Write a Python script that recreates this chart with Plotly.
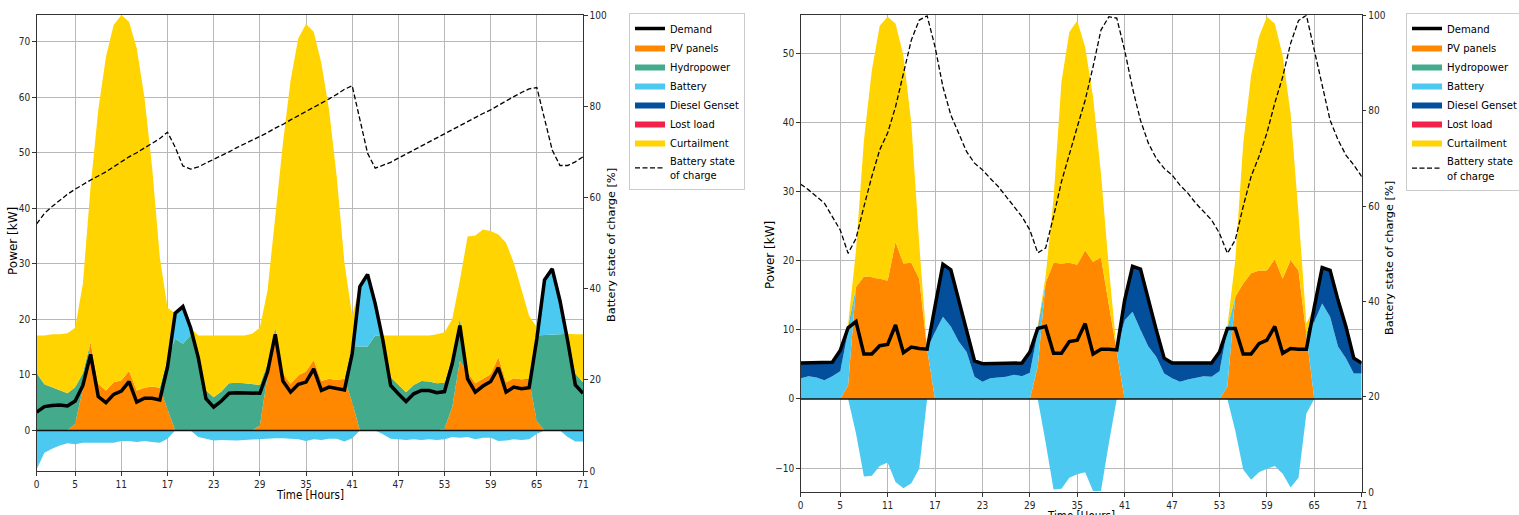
import plotly.graph_objects as go

hours = list(range(72))
x_ticks = [0, 5, 11, 17, 23, 29, 35, 41, 47, 53, 59, 65, 71]

# ---------------- Left chart (hydro system) ----------------
demand_L = [3.3, 4.3, 4.5, 4.6, 4.4, 5.3, 8.1, 13.7, 6.1, 5.0,
            6.5, 7.1, 8.8, 5.1, 5.8, 5.8, 5.5, 11.4, 21.1, 22.3,
            18.5, 13.1, 5.7, 4.2, 5.3, 6.7, 6.8, 6.8, 6.8, 6.7,
            10.5, 17.3, 8.9, 6.9, 8.3, 8.7, 11.1, 7.2, 7.8, 7.6,
            7.3, 13.8, 25.9, 28.1, 22.8, 16.2, 8.1, 6.6, 5.2, 6.6,
            7.2, 7.2, 6.8, 7.0, 12.0, 18.9, 9.3, 6.9, 8.0, 8.8,
            11.3, 6.9, 7.8, 7.5, 7.7, 16.5, 27.1, 29.1, 23.4, 16.2,
            8.2, 6.7]
pv_L = [0, 0, 0, 0, 0, 1.2, 7.5, 15.9, 8.4, 7.2,
        8.7, 9.0, 10.7, 7.2, 7.7, 7.9, 7.7, 3.8, 0, 0,
        0, 0, 0, 0, 0, 0, 0, 0, 0, 0.9,
        9.7, 18.7, 10.3, 8.4, 9.9, 10.6, 12.7, 8.9, 9.3, 9.1,
        9.3, 5.1, 0, 0, 0, 0, 0, 0, 0, 0,
        0, 0, 0, 0.3, 4.2, 12.5, 10.5, 8.5, 9.3, 10.1,
        13.2, 8.7, 9.4, 9.2, 9.0, 1.6, 0, 0, 0, 0,
        0, 0]
hydro_L = [10.3, 8.3, 7.8, 7.3, 6.7, 6.6, 2.8, 0, 0, 0,
           0, 0, 0, 0, 0, 0, 0, 9.1, 16.5, 15.6,
           17.2, 14.3, 7.2, 6.0, 7.0, 8.5, 8.6, 8.5, 8.4, 7.3,
           2.3, 0, 0, 0, 0, 0, 0, 0, 0, 0,
           0, 10.1, 15.1, 15.1, 17.1, 16.9, 9.6, 8.2, 6.9, 8.2,
           8.9, 8.8, 8.5, 8.3, 9.0, 7.7, 0, 0, 0, 0,
           0, 0, 0, 0, 0.3, 15.5, 17.2, 17.2, 17.3, 17.4,
           10.2, 8.7]
batt_dis_L = [0, 0, 0, 0, 0, 0, 0, 0, 0, 0,
              0, 0, 0, 0, 0, 0, 0, 0, 4.6, 6.7,
              1.3, 0, 0, 0, 0, 0, 0, 0, 0, 0,
              0, 0, 0, 0, 0, 0, 0, 0, 0, 0,
              0, 0, 10.8, 13.0, 5.7, 0, 0, 0, 0, 0,
              0, 0, 0, 0, 0, 0, 0, 0, 0, 0,
              0, 0, 0, 0, 0, 0, 9.9, 11.9, 6.1, 0,
              0, 0]
diesel_L = [0] * 72
lost_L = [0] * 72
curt_L = [6.8, 8.8, 9.5, 10.0, 10.8, 10.7, 16.1, 27.9, 49.3, 60.1,
          64.3, 65.8, 62.9, 61.6, 52.3, 39.5, 23.5, 9.2, 0, 0,
          0, 2.8, 9.9, 11.1, 10.1, 8.6, 8.5, 8.6, 9.0, 10.3,
          13.2, 19.7, 41.4, 54.7, 60.7, 62.6, 59.1, 57.2, 48.4, 36.5,
          20.8, 5.5, 0, 0, 0, 0.2, 7.5, 8.9, 10.2, 8.9,
          8.2, 8.3, 8.8, 9.1, 6.8, 6.8, 24.4, 26.6, 26.9, 25.8,
          22.1, 25.1, 20.8, 16.2, 11.3, 1.5, 0, 0, 0, 0,
          7.1, 8.6]
batt_ch_L = [-7.0, -4.0, -3.3, -2.7, -2.3, -2.5, -2.2, -2.2, -2.3, -2.2,
             -2.2, -1.9, -1.9, -2.1, -1.9, -2.1, -2.2, -1.5, 0, 0,
             0, -1.2, -1.5, -1.8, -1.7, -1.8, -1.8, -1.7, -1.6, -1.5,
             -1.5, -1.4, -1.4, -1.5, -1.6, -1.9, -1.6, -1.7, -1.5, -1.5,
             -2.0, -1.4, 0, 0, 0, -0.7, -1.5, -1.6, -1.7, -1.6,
             -1.7, -1.6, -1.7, -1.6, -1.2, -1.3, -1.2, -1.6, -1.3, -1.3,
             -1.9, -1.8, -1.6, -1.7, -1.6, -0.6, 0, 0, 0, -1.2,
             -2.0, -2.0]
soc_L = [54.2, 56.5, 58.0, 59.4, 60.7, 61.8, 62.9, 63.8, 64.7, 65.6,
         66.7, 67.8, 68.9, 69.8, 70.8, 71.9, 72.9, 74.3, 71.0, 66.9,
         66.2, 66.7, 67.5, 68.4, 69.2, 70.0, 70.9, 71.7, 72.6, 73.3,
         74.2, 75.2, 76.0, 77.0, 77.9, 78.8, 79.7, 80.6, 81.6, 82.6,
         83.7, 84.5, 77.0, 69.7, 66.4, 67.0, 67.7, 68.6, 69.5, 70.4,
         71.3, 72.2, 73.1, 73.9, 74.8, 75.7, 76.6, 77.6, 78.4, 79.2,
         80.2, 81.2, 82.1, 83.0, 83.8, 84.1, 77.0, 70.4, 67.0, 67.0,
         67.8, 68.9]

# ---------------- Right chart (diesel system) ----------------
demand_R = [5.2, 5.2, 5.2, 5.2, 5.3, 7.0, 10.3, 11.2, 6.5, 6.5,
            7.7, 7.9, 10.7, 6.7, 7.5, 7.3, 7.2, 13.4, 19.5, 18.7,
            14.3, 10.0, 5.5, 5.1, 5.1, 5.1, 5.1, 5.1, 5.2, 6.8,
            10.2, 10.5, 6.6, 6.6, 8.3, 8.5, 10.9, 6.5, 7.2, 7.2,
            7.1, 14.3, 19.2, 18.8, 14.3, 10.0, 5.9, 5.2, 5.2, 5.2,
            5.2, 5.2, 5.2, 6.8, 10.2, 10.2, 6.5, 6.5, 8.0, 8.5,
            10.5, 6.6, 7.3, 7.2, 7.2, 13.3, 19.0, 18.6, 14.3, 10.5,
            5.9, 5.2]
pv_R = [0, 0, 0, 0, 0, 0, 2.0, 16.2, 17.7, 17.6,
        17.4, 17.1, 22.7, 19.6, 19.7, 17.4, 7.2, 0, 0, 0,
        0, 0, 0, 0, 0, 0, 0, 0, 0, 0,
        4.7, 16.8, 19.7, 19.6, 19.7, 19.4, 21.5, 19.8, 20.5, 13.6,
        7.1, 0, 0, 0, 0, 0, 0, 0, 0, 0,
        0, 0, 0, 0, 1.8, 14.8, 16.7, 18.2, 18.6, 18.6,
        20.2, 17.4, 20.1, 18.6, 9.3, 0, 0, 0, 0, 0,
        0, 0]
hydro_R = [0] * 72
batt_dis_R = [3.0, 3.3, 3.1, 2.7, 3.3, 4.0, 7.8, 0, 0, 0,
              0, 0, 0, 0, 0, 0, 0, 9.7, 11.9, 10.5,
              8.3, 6.8, 3.2, 2.5, 3.0, 3.1, 3.2, 3.5, 3.3, 3.8,
              5.0, 0, 0, 0, 0, 0, 0, 0, 0, 0,
              0, 11.4, 12.6, 10.0, 7.6, 6.1, 3.7, 3.0, 2.5, 2.8,
              3.0, 3.3, 3.2, 4.0, 8.2, 0, 0, 0, 0, 0,
              0, 0, 0, 0, 0, 11.2, 13.8, 11.9, 7.6, 5.9,
              3.7, 3.7]
diesel_R = [2.2, 1.9, 2.1, 2.5, 2.0, 3.0, 0.5, 0, 0, 0,
            0, 0, 0, 0, 0, 0, 0, 3.7, 7.6, 8.2,
            6.0, 3.2, 2.3, 2.6, 2.1, 2.0, 1.9, 1.6, 1.9, 3.0,
            0.5, 0, 0, 0, 0, 0, 0, 0, 0, 0,
            0, 2.9, 6.6, 8.8, 6.7, 3.9, 2.2, 2.2, 2.7, 2.4,
            2.2, 1.9, 2.0, 2.8, 0.2, 0, 0, 0, 0, 0,
            0, 0, 0, 0, 0, 2.1, 5.2, 6.7, 6.7, 4.6,
            2.2, 1.5]
lost_R = [0] * 72
curt_R = [0, 0, 0, 0, 0, 0, 0.5, 5.3, 19.7, 29.9,
          36.6, 38.2, 31.6, 30.1, 20.2, 5.1, 0, 0, 0, 0,
          0, 0, 0, 0, 0, 0, 0, 0, 0, 0,
          0.3, 1.0, 9.3, 26.3, 33.4, 35.3, 29.4, 23.9, 12.1, 5.4,
          0, 0, 0, 0, 0, 0, 0, 0, 0, 0,
          0, 0, 0, 0, 0.3, 5.3, 20.2, 28.6, 33.8, 36.7,
          34.1, 32.3, 21.2, 8.2, 1.6, 0, 0, 0, 0, 0,
          0, 0]
batt_ch_R = [0, 0, 0, 0, 0, 0, 0, -5.0, -11.2, -11.1,
             -9.7, -9.2, -12.0, -12.9, -12.2, -10.1, 0, 0, 0, 0,
             0, 0, 0, 0, 0, 0, 0, 0, 0, 0,
             0, -6.3, -13.1, -13.0, -11.4, -10.9, -10.6, -13.3, -13.3, -6.4,
             0, 0, 0, 0, 0, 0, 0, 0, 0, 0,
             0, 0, 0, 0, 0, -4.6, -10.2, -11.7, -10.6, -10.1,
             -9.7, -10.8, -12.8, -11.4, -2.1, 0, 0, 0, 0, 0,
             0, 0]
soc_R = [64.6, 63.4, 62.0, 60.6, 57.8, 55.0, 50.1, 53.2, 59.9, 66.2,
         71.8, 75.3, 80.8, 87.8, 94.8, 99.0, 99.9, 93.4, 85.0, 79.1,
         75.3, 71.4, 69.0, 67.6, 65.8, 64.1, 62.0, 59.9, 57.8, 55.0,
         50.2, 51.2, 57.8, 65.1, 71.1, 76.6, 82.2, 89.2, 96.9, 99.7,
         99.4, 92.7, 84.7, 78.0, 73.2, 70.0, 67.9, 66.5, 64.4, 62.7,
         60.6, 58.8, 57.1, 54.3, 50.1, 52.9, 59.9, 66.2, 70.4, 75.3,
         81.6, 87.1, 94.1, 98.9, 100.0, 92.7, 85.0, 78.0, 73.9, 70.7,
         68.6, 66.2]

# ---------------- Styling ----------------
FONT = "DejaVu Sans Condensed, Liberation Sans Narrow, DejaVu Sans"
FONT_V = "DejaVu Sans"
C_PV = "#FF8800"
C_HYDRO = "#43AA8B"
C_BATT = "#4CC9F0"
C_DIESEL = "#034F9C"
C_LOST = "#F3224B"
C_CURT = "#FFD400"

fig = go.Figure()


def add_chart(xa, ya, ya2, leg, tag, demand, pv, hydro, bdis, diesel, lost, curt, bch, soc):
    stack = [("PV panels", pv, C_PV, 2), ("Hydropower", hydro, C_HYDRO, 3),
             ("Battery", bdis, C_BATT, 4), ("Diesel Genset", diesel, C_DIESEL, 5),
             ("Lost load", lost, C_LOST, 6), ("Curtailment", curt, C_CURT, 7)]
    for name, vals, col, rank in stack:
        fig.add_trace(go.Scatter(x=hours, y=vals, name=name, mode="lines",
                                 line=dict(width=0, color=col), fillcolor=col,
                                 stackgroup="pos" + tag, legend=leg, legendrank=rank,
                                 xaxis=xa, yaxis=ya, hoverinfo="skip"))
    fig.add_trace(go.Scatter(x=hours, y=bch, name="Battery charge", mode="lines",
                             line=dict(width=0, color=C_BATT), fillcolor=C_BATT,
                             stackgroup="neg" + tag, showlegend=False, legend=leg,
                             xaxis=xa, yaxis=ya, hoverinfo="skip"))
    fig.add_trace(go.Scatter(x=hours, y=demand, name="Demand", mode="lines",
                             line=dict(width=3.5, color="black"), legend=leg, legendrank=1,
                             xaxis=xa, yaxis=ya))
    fig.add_trace(go.Scatter(x=hours, y=soc, name="Battery state<br>of charge", mode="lines",
                             line=dict(width=1.3, color="black", dash="5px,2.5px"),
                             legend=leg, legendrank=8, xaxis=xa, yaxis=ya2))


add_chart("x", "y", "y2", "legend", "L", demand_L, pv_L, hydro_L, batt_dis_L,
          diesel_L, lost_L, curt_L, batt_ch_L, soc_L)
add_chart("x2", "y3", "y4", "legend2", "R", demand_R, pv_R, hydro_R, batt_dis_R,
          diesel_R, lost_R, curt_R, batt_ch_R, soc_R)

W, H = 1519, 515
tickfont = dict(family=FONT, size=10, color="#262626")
ytitle_font = dict(family=FONT_V, size=12, color="#000")
soc_title_font = dict(family=FONT_V, size=11.3, color="#000")
xtitle_font = dict(family=FONT, size=11.5, color="#000")

common_x = dict(range=[0, 71], tickmode="array", tickvals=x_ticks, showgrid=True,
                gridcolor="#b8b8b8", gridwidth=0.8, showline=True, linecolor="#333",
                linewidth=1, mirror=True, ticks="outside", ticklen=3.5, tickcolor="#333",
                tickfont=tickfont, zeroline=False, automargin=False)
common_y = dict(showgrid=True, gridcolor="#b8b8b8", gridwidth=0.8, showline=True,
                linecolor="#333", linewidth=1, ticks="outside", ticklen=3.5, tickcolor="#333",
                tickfont=tickfont, zeroline=False, automargin=False, dtick=10)
common_y2 = dict(range=[0, 100], tickmode="array", tickvals=[0, 20, 40, 60, 80, 100],
                 showgrid=False, showline=True, linecolor="#333", linewidth=1,
                 ticks="outside", ticklen=3.5, tickcolor="#333", tickfont=tickfont,
                 zeroline=False, side="right", automargin=False)

xL = [36.7 / W, 583 / W]
yL = [1 - 471 / H, 1 - 15 / H]
xR = [800.7 / W, 1361.7 / W]
yR = [1 - 492.3 / H, 1 - 15.3 / H]


def ann(text, px, py, angle, font, yanchor="middle"):
    return dict(text=text, xref="paper", yref="paper", x=px / W, y=1 - py / H,
                xanchor="center", yanchor=yanchor, textangle=angle, showarrow=False,
                font=font)


annotations = [
    ann("Power [kW]", 13, 241, -90, ytitle_font),
    ann("Battery state of charge [%]", 611, 245, -90, soc_title_font),
    ann("Time [Hours]", 310, 495, 0, xtitle_font),
    ann("Power [kW]", 770, 255, -90, ytitle_font),
    ann("Battery state of charge [%]", 1389, 258, -90, soc_title_font),
    ann("Time [Hours]", 1081, 507, 0, xtitle_font, yanchor="top"),
]

fig.update_layout(
    width=W, height=H, margin=dict(l=0, r=0, t=0, b=0, autoexpand=False),
    paper_bgcolor="white", plot_bgcolor="white",
    font=dict(family=FONT, size=12, color="#000"),
    showlegend=True,
    xaxis=dict(domain=xL, anchor="y", **common_x),
    yaxis=dict(domain=yL, anchor="x", range=[-7.3, 74.8], **common_y),
    yaxis2=dict(overlaying="y", anchor="x", **common_y2),
    xaxis2=dict(domain=xR, anchor="y3", **common_x),
    yaxis3=dict(domain=yR, anchor="x2", range=[-13.5, 55.5], **common_y),
    yaxis4=dict(overlaying="y3", anchor="x2", **common_y2),
    annotations=annotations,
    legend=dict(x=629 / W, y=1 - 13 / H, xanchor="left", yanchor="top",
                bgcolor="white", bordercolor="#cccccc", borderwidth=1,
                font=dict(family=FONT, size=11, color="#000"), traceorder="normal",
                tracegroupgap=0),
    legend2=dict(x=1406 / W, y=1 - 13 / H, xanchor="left", yanchor="top",
                 bgcolor="white", bordercolor="#cccccc", borderwidth=1,
                 font=dict(family=FONT, size=11.2, color="#000"), traceorder="normal",
                 tracegroupgap=0),
    shapes=[
        dict(type="line", xref="x domain", yref="y", x0=0, x1=1, y0=0, y1=0,
             line=dict(color="#111", width=1.6), layer="above"),
        dict(type="line", xref="x2 domain", yref="y3", x0=0, x1=1, y0=0, y1=0,
             line=dict(color="#111", width=1.6), layer="above"),
    ],
)

fig.write_html("out.html")
